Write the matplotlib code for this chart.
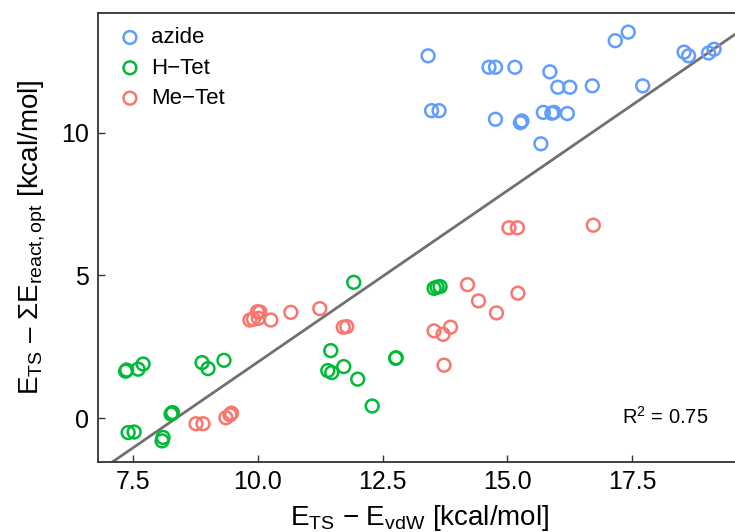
import numpy as np
import matplotlib
matplotlib.use("Agg")
import matplotlib.pyplot as plt

plt.rcParams["font.family"] = ["Liberation Sans", "DejaVu Sans"]
plt.rcParams["mathtext.fontset"] = "custom"
plt.rcParams["mathtext.rm"] = "Liberation Sans"
plt.rcParams["mathtext.it"] = "Liberation Sans"
plt.rcParams["mathtext.default"] = "regular"

# Barrier relative to the vdW complex (x) vs. relative to optimised reactants (y)
azide_x = [13.41, 13.48, 13.63, 14.63, 14.76, 15.15, 15.85, 16.01, 16.25, 16.70,
           17.16, 17.42, 17.71, 18.54, 18.63, 19.03, 19.14, 14.76, 15.26, 15.29,
           15.72, 15.89, 15.93, 16.20, 15.67]
azide_y = [12.69, 10.77, 10.77, 12.29, 12.29, 12.29, 12.13, 11.59, 11.59, 11.64,
           13.22, 13.52, 11.64, 12.82, 12.69, 12.79, 12.92, 10.47, 10.35, 10.41,
           10.71, 10.68, 10.71, 10.67, 9.61]

htet_x = [7.35, 7.37, 7.60, 7.70, 8.88, 9.00, 9.32, 8.26, 8.28, 8.29, 7.40, 7.52,
          8.10, 8.08, 11.46, 11.40, 11.48, 11.92, 11.72, 12.00, 12.76, 12.77,
          12.29, 13.53, 13.59, 13.65]
htet_y = [1.65, 1.69, 1.72, 1.90, 1.95, 1.74, 2.03, 0.15, 0.18, 0.20, -0.50, -0.48,
          -0.67, -0.79, 2.37, 1.67, 1.60, 4.76, 1.81, 1.37, 2.10, 2.12,
          0.43, 4.55, 4.59, 4.61]

metet_x = [10.66, 11.24, 11.71, 11.78, 14.20, 14.42, 14.78, 15.21, 13.53, 13.71,
           13.86, 13.73, 15.03, 15.20, 16.72, 9.84, 9.91, 9.99, 10.01, 10.04,
           10.26, 8.76, 8.90, 9.36, 9.44, 9.47]
metet_y = [3.71, 3.84, 3.19, 3.21, 4.68, 4.11, 3.69, 4.38, 3.06, 2.94,
           3.19, 1.86, 6.67, 6.67, 6.76, 3.44, 3.47, 3.73, 3.50, 3.72,
           3.44, -0.19, -0.19, 0.02, 0.12, 0.18]

groups = ["azide", "H\u2212Tet", "Me\u2212Tet"]
colors = ["#619CFF", "#00BA38", "#F8766D"]

# linear trend line (slope, intercept) and its coefficient of determination
fit_slope = 1.20
fit_intercept = -10.03
r2_label = "0.75"

fig = plt.figure(figsize=(7.35, 5.32), dpi=100)
ax = fig.add_axes([97.7 / 735, 70 / 532, (742 - 97.7) / 735, (462 - 12.7) / 532])

series = [(azide_x, azide_y), (htet_x, htet_y), (metet_x, metet_y)]
handles = []
for (xs, ys), name, col in zip(series, groups, colors):
    h = ax.scatter(xs, ys, s=85, facecolors="none", edgecolors=col,
                   linewidths=1.8, label=name, zorder=3)
    handles.append(h)

xl = np.array([5.0, 21.0])
ax.plot(xl, fit_slope * xl + fit_intercept, color="#707070", lw=2.0, zorder=2)

ax.set_xlim(6.79, 19.7)
ax.set_ylim(-1.53, 14.2)
ax.set_xticks([7.5, 10.0, 12.5, 15.0, 17.5])
ax.set_xticklabels(["7.5", "10.0", "12.5", "15.0", "17.5"])
ax.set_yticks([0, 5, 10])
ax.set_yticklabels(["0", "5", "10"])

for side in ["left", "bottom", "top"]:
    ax.spines[side].set_color("#333333")
    ax.spines[side].set_linewidth(1.3)
ax.spines["right"].set_visible(False)
ax.tick_params(direction="in", length=5, width=1.0, color="#333333",
               labelsize=18, labelcolor="black", pad=6)

ax.set_xlabel("E$_{TS}$ \u2212 E$_{vdW}$ [kcal/mol]", fontsize=20, labelpad=6)
ax.set_ylabel("E$_{TS}$ \u2013 \u03a3E$_{react,opt}$ [kcal/mol]", fontsize=20, labelpad=9)

ax.text(18.15, 0.05, "R$^{2}$ = " + r2_label, fontsize=14.5, ha="center", va="center")

leg = ax.legend(handles=handles, loc="upper left", bbox_to_anchor=(0.0, 1.012),
                frameon=False, fontsize=16, handletextpad=0.4, labelspacing=0.42,
                borderaxespad=0.5, handlelength=1.1)

fig.savefig("out.png", dpi=100)
